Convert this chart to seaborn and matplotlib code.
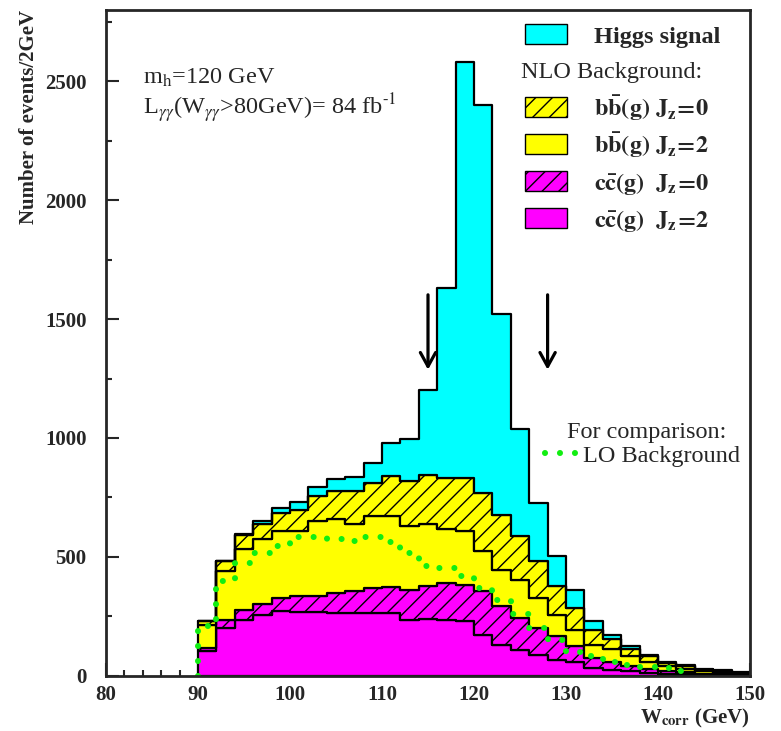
import numpy as np
import pandas as pd
import matplotlib
matplotlib.use("Agg")
import matplotlib.pyplot as plt
import seaborn as sns
from matplotlib.patches import Rectangle
from matplotlib.lines import Line2D
from matplotlib.ticker import MultipleLocator

# ---------------- data (events / 2 GeV) ----------------
bin_edges = list(range(90, 152, 2))          # 90 ... 150
bin_left = bin_edges[:-1]

higgs = [0, 0, 3, 12, 21, 32, 38, 53, 59, 84, 141, 178, 355, 797, 1750,
         1632, 842, 452, 246, 126, 74, 35, 19, 11, 7, 5, 4, 3, 3, 3]
bb_jz0 = [14, 42, 56, 65, 77, 91, 105, 119, 140, 140, 168, 187, 210, 217, 224,
          246, 232, 183, 154, 119, 91, 63, 42, 31, 25, 13, 11, 8, 7, 5]
bb_jz2 = [97, 203, 257, 273, 281, 274, 316, 309, 281, 302, 298, 269, 257, 225, 225,
          168, 154, 161, 126, 91, 71, 56, 54, 39, 26, 19, 14, 9, 6, 4]
cc_jz0 = [16, 35, 42, 45, 56, 66, 68, 85, 93, 107, 109, 129, 140, 154, 154,
          182, 162, 133, 113, 99, 67, 43, 33, 24, 18, 12, 8, 5, 3, 2]
cc_jz2 = [102, 201, 236, 257, 271, 268, 266, 263, 262, 262, 264, 233, 239, 236, 229,
          173, 130, 110, 88, 67, 56, 32, 25, 18, 12, 8, 6, 4, 3, 2]

# LO background (dotted histogram), bins 90-92 ... 142-144
lo_edges = list(range(90, 146, 2))
lo_bkg = [210, 400, 475, 515, 546, 584, 583, 575, 568, 583, 562, 518, 462, 455,
          420, 370, 320, 260, 200, 150, 101, 84, 59, 45, 38, 31, 20]

comp_names = ["Higgs signal", "bb Jz=0", "bb Jz=2", "cc Jz=0", "cc Jz=2"]
comp_values = [higgs, bb_jz0, bb_jz2, cc_jz0, cc_jz2]
comp_colors = ["#00ffff", "#ffff00", "#ffff00", "#ff00ff", "#ff00ff"]
comp_hatch = [None, "//", None, "//", None]
legend_labels = [r"$\mathbf{b\bar{b}(g)\ J_z\!=\!0}$",
                 r"$\mathbf{b\bar{b}(g)\ J_z\!=\!2}$",
                 r"$\mathbf{c\bar{c}(g)\ \ J_z\!=\!0}$",
                 r"$\mathbf{c\bar{c}(g)\ \ J_z\!=\!2}$"]

x_ticks = [80, 90, 100, 110, 120, 130, 140, 150]
y_ticks = [0, 500, 1000, 1500, 2000, 2500]

# ---------------- style ----------------
sns.set_style("ticks")
plt.rcParams["font.family"] = ["Liberation Serif", "DejaVu Serif"]
plt.rcParams["mathtext.fontset"] = "stix"
plt.rcParams["hatch.linewidth"] = 1.0
plt.rcParams["axes.linewidth"] = 2.0

W, H = 781, 731
fig = plt.figure(figsize=(W / 100, H / 100), dpi=100)
ax = fig.add_axes([106 / W, 1 - 675.7 / H, (750 - 106) / W, (675.7 - 10) / H])


def fpx(x, y):
    return (x / W, 1 - y / H)


rows = []
for name, vals in zip(comp_names, comp_values):
    for xl, v in zip(bin_left, vals):
        rows.append({"x": xl + 1.0, "w": v, "comp": name})
df = pd.DataFrame(rows)

sns.histplot(data=df, x="x", weights="w", hue="comp", hue_order=comp_names,
             bins=bin_edges, multiple="stack", element="step", fill=True,
             palette=dict(zip(comp_names, comp_colors)), alpha=1,
             edgecolor="black", linewidth=1.6, legend=False, ax=ax)

# apply hatches: identify layers by their height (bottom -> top)
polys = [c for c in ax.collections]
polys_sorted = sorted(polys, key=lambda c: c.get_paths()[0].vertices[:, 1].max())
order_bottom_up = ["cc Jz=2", "cc Jz=0", "bb Jz=2", "bb Jz=0", "Higgs signal"]
for coll, name in zip(polys_sorted, order_bottom_up):
    h = comp_hatch[comp_names.index(name)]
    if h:
        coll.set_hatch(h)

# LO background as dotted step line
DOT_LW = 4.4
DOT_STYLE = (0, (0.001, 2.45))
lo_df = pd.DataFrame({"edge": lo_edges, "val": [0] + lo_bkg})
sns.lineplot(data=lo_df, x="edge", y="val", drawstyle="steps-pre", ax=ax,
             color="#11ee11", linewidth=DOT_LW)
lo_line = ax.lines[-1]
lo_line.set_linewidth(DOT_LW)
lo_line.set_linestyle(DOT_STYLE)
lo_line.set_dash_capstyle("round")

# arrows marking the mass window
for xa in (115, 128):
    ax.annotate("", xy=(xa, 1287), xytext=(xa, 1602),
                arrowprops=dict(arrowstyle="->,head_length=1.0,head_width=0.55",
                                lw=2.3, color="black", shrinkA=0, shrinkB=0))

# axes
ax.set_xlim(80, 150)
ax.set_ylim(0, 2800)
ax.set_xticks(x_ticks, labels=[str(t) for t in x_ticks], fontweight="bold", fontsize=15)
ax.set_yticks(y_ticks, labels=[str(t) for t in y_ticks], fontweight="bold", fontsize=15)
ax.xaxis.set_minor_locator(MultipleLocator(2))
ax.yaxis.set_minor_locator(MultipleLocator(250))
ax.tick_params(which="both", direction="in", top=False, right=False, width=1.5)
ax.tick_params(which="major", length=9.5)
ax.tick_params(which="minor", length=4.5)
ax.tick_params(axis="x", which="major", pad=7)
ax.tick_params(axis="y", which="major", pad=14)
for s in ax.spines.values():
    s.set_visible(True)
    s.set_linewidth(2.0)
ax.set_ylabel("Number of events/2GeV", loc="top", fontweight="bold", fontsize=15,
              labelpad=4)
ax.set_xlabel(r"W$_{\mathbf{corr}}$ (GeV)", loc="right", fontweight="bold",
              fontsize=15, labelpad=1)

# annotations
ax.text(84.0, 2491, r"m$_{\rm h}$=120 GeV", fontsize=17.5, va="baseline")
ax.text(84.0, 2360, r"L$_{\gamma\gamma}$(W$_{\gamma\gamma}$>80GeV)= 84 fb$^{\text{-1}}$",
        fontsize=17.5, va="baseline")
ax.text(130.1, 1001, "For comparison:", fontsize=17.5, va="baseline")
ax.text(131.85, 900, "LO Background", fontsize=17.5, va="baseline")
fig.add_artist(Line2D([545 / W, 580 / W], [1 - 453 / H, 1 - 453 / H],
                      transform=fig.transFigure, color="#11ee11", lw=DOT_LW,
                      linestyle=DOT_STYLE, dash_capstyle="round"))

# legend (manual, like the original)
box_w, box_h = 42, 20
items = [("Higgs signal", 44, "#00ffff", None, "Higgs signal"),
         ("bb Jz=0", 117, "#ffff00", "//", legend_labels[0]),
         ("bb Jz=2", 154, "#ffff00", None, legend_labels[1]),
         ("cc Jz=0", 191, "#ff00ff", "//", legend_labels[2]),
         ("cc Jz=2", 228, "#ff00ff", None, legend_labels[3])]
for name, ybot, col, hat, lab in items:
    x0, y0 = fpx(525, ybot)
    fig.add_artist(Rectangle((x0, y0), box_w / W, box_h / H, transform=fig.transFigure,
                             facecolor=col, edgecolor="black", lw=1.0, hatch=hat))
    tx, ty = fpx(594, ybot - 1)
    fig.text(tx, ty, lab, fontsize=17.5, fontweight="bold", va="baseline")
tx, ty = fpx(521, 78)
fig.text(tx, ty, "NLO Background:", fontsize=17.5, va="baseline")

fig.savefig("out.png", dpi=100)
